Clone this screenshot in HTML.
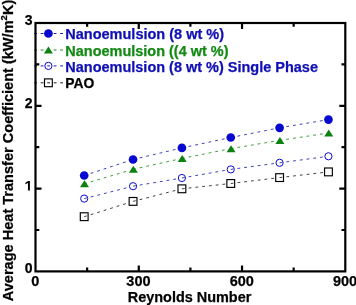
<!DOCTYPE html>
<html><head><meta charset="utf-8"><style>
html,body{margin:0;padding:0;background:#fff;width:356px;height:305px;overflow:hidden}
svg{display:block;will-change:transform}
text{font-family:"Liberation Sans",sans-serif;font-weight:bold;font-size:14px;stroke:currentColor;stroke-width:0.25px}
</style></head><body>
<svg width="356" height="305" viewBox="0 0 356 305">
<path d="M84.20 216.70L129.61 202.48M133.05 201.40L178.41 189.70M181.90 188.80L227.17 183.89M230.75 183.50L276.03 178.03M279.60 177.60L324.87 172.32" fill="none" stroke="#202020" stroke-width="0.85" stroke-dasharray="2.8 4"/>
<path d="M84.20 198.60L129.56 187.09M133.05 186.20L178.35 178.60M181.90 178.00L227.20 170.02M230.75 169.40L276.03 163.28M279.60 162.80L324.88 156.77" fill="none" stroke="#1c1cb0" stroke-width="0.85" stroke-dasharray="2.8 4"/>
<path d="M84.20 183.80L129.60 170.37M133.05 169.35L178.39 159.23M181.90 158.45L227.22 149.36M230.75 148.65L276.05 141.00M279.60 140.40L324.89 133.54" fill="none" stroke="#168c18" stroke-width="0.85" stroke-dasharray="2.8 4"/>
<path d="M84.20 175.50L129.63 160.62M133.05 159.50L178.40 148.73M181.90 147.90L227.23 138.25M230.75 137.50L276.07 128.50M279.60 127.80L324.90 120.20" fill="none" stroke="#1c1cb0" stroke-width="0.85" stroke-dasharray="2.8 4"/>
<rect x="80.30" y="212.80" width="7.8" height="7.8" fill="none" stroke="#000" stroke-width="1.15"/>
<rect x="129.15" y="197.50" width="7.8" height="7.8" fill="none" stroke="#000" stroke-width="1.15"/>
<rect x="178.00" y="184.90" width="7.8" height="7.8" fill="none" stroke="#000" stroke-width="1.15"/>
<rect x="226.85" y="179.60" width="7.8" height="7.8" fill="none" stroke="#000" stroke-width="1.15"/>
<rect x="275.70" y="173.70" width="7.8" height="7.8" fill="none" stroke="#000" stroke-width="1.15"/>
<rect x="324.55" y="168.00" width="7.8" height="7.8" fill="none" stroke="#000" stroke-width="1.15"/>
<circle cx="84.20" cy="198.60" r="3.6" fill="none" stroke="#0808d0" stroke-width="1.0"/>
<circle cx="133.05" cy="186.20" r="3.6" fill="none" stroke="#0808d0" stroke-width="1.0"/>
<circle cx="181.90" cy="178.00" r="3.6" fill="none" stroke="#0808d0" stroke-width="1.0"/>
<circle cx="230.75" cy="169.40" r="3.6" fill="none" stroke="#0808d0" stroke-width="1.0"/>
<circle cx="279.60" cy="162.80" r="3.6" fill="none" stroke="#0808d0" stroke-width="1.0"/>
<circle cx="328.45" cy="156.30" r="3.6" fill="none" stroke="#0808d0" stroke-width="1.0"/>
<path d="M84.50 180.30L89.00 187.30L80.00 187.30Z" fill="#0c820e"/>
<path d="M133.35 165.85L137.85 172.85L128.85 172.85Z" fill="#0c820e"/>
<path d="M182.20 154.95L186.70 161.95L177.70 161.95Z" fill="#0c820e"/>
<path d="M231.05 145.15L235.55 152.15L226.55 152.15Z" fill="#0c820e"/>
<path d="M279.90 136.90L284.40 143.90L275.40 143.90Z" fill="#0c820e"/>
<path d="M328.75 129.50L333.25 136.50L324.25 136.50Z" fill="#0c820e"/>
<circle cx="84.20" cy="175.50" r="4.35" fill="#0808d0"/>
<circle cx="133.05" cy="159.50" r="4.35" fill="#0808d0"/>
<circle cx="181.90" cy="147.90" r="4.35" fill="#0808d0"/>
<circle cx="230.75" cy="137.50" r="4.35" fill="#0808d0"/>
<circle cx="279.60" cy="127.80" r="4.35" fill="#0808d0"/>
<circle cx="328.45" cy="119.60" r="4.35" fill="#0808d0"/>
<path d="M34.2 33.5H63.0" stroke="#1c1cb0" stroke-width="1" stroke-dasharray="2.8 3.7"/>
<circle cx="48.40" cy="33.50" r="4.35" fill="#0808d0"/>
<path d="M34.2 50.0H63.0" stroke="#168c18" stroke-width="1" stroke-dasharray="2.8 3.7"/>
<path d="M48.40 46.50L52.90 53.50L43.90 53.50Z" fill="#0c820e"/>
<path d="M34.2 65.9H63.0" stroke="#1c1cb0" stroke-width="1" stroke-dasharray="2.8 3.7"/>
<circle cx="48.40" cy="65.90" r="3.6" fill="none" stroke="#0808d0" stroke-width="1.0"/>
<path d="M34.2 82.8H63.0" stroke="#202020" stroke-width="1" stroke-dasharray="2.8 3.7"/>
<rect x="44.50" y="78.90" width="7.8" height="7.8" fill="none" stroke="#000" stroke-width="1.15"/>
<text x="65.3" y="38.9" fill="#1010b4" style="color:#1010b4" textLength="158.7" lengthAdjust="spacingAndGlyphs">Nanoemulsion (8 wt %)</text>
<text x="65.3" y="55.6" fill="#128a14" style="color:#128a14" textLength="163.2" lengthAdjust="spacingAndGlyphs">Nanoemulsion ((4 wt %)</text>
<text x="65.3" y="72.0" fill="#1010b4" style="color:#1010b4" textLength="252.7" lengthAdjust="spacingAndGlyphs">Nanoemulsion (8 wt %) Single Phase</text>
<text x="65.3" y="87.8" fill="#000" style="color:#000" textLength="29.0" lengthAdjust="spacingAndGlyphs">PAO</text>
<path d="M87.13 271.4V267.60M87.13 23.0V26.80M190.40 271.4V267.60M190.40 23.0V26.80M293.67 271.4V267.60M293.67 23.0V26.80M138.77 271.4V265.40M138.77 23.0V29.00M242.03 271.4V265.40M242.03 23.0V29.00M35.5 230.00H39.30M345.3 230.00H341.50M35.5 147.20H39.30M345.3 147.20H341.50M35.5 64.40H39.30M345.3 64.40H341.50M35.5 188.60H41.50M345.3 188.60H339.30M35.5 105.80H41.50M345.3 105.80H339.30" stroke="#000" stroke-width="2.2" fill="none"/>
<rect x="35.5" y="23.0" width="309.80" height="248.40" fill="none" stroke="#000" stroke-width="2.2"/>
<text x="32.6" y="273.40" text-anchor="end">0</text>
<text x="32.6" y="107.80" text-anchor="end">2</text>
<text x="32.6" y="25.00" text-anchor="end">3</text>
<path transform="translate(24.7 190.6) scale(0.006836 -0.006836)" d="M478 0V1130L100 920V1160L493 1409H759V0Z"/>
<text x="35.20" y="285.9" text-anchor="middle" style="font-size:14.5px">0</text>
<text x="138.47" y="285.9" text-anchor="middle" style="font-size:14.5px">300</text>
<text x="241.73" y="285.9" text-anchor="middle" style="font-size:14.5px">600</text>
<text x="345.00" y="285.9" text-anchor="middle" style="font-size:14.5px">900</text>
<text x="127.8" y="301.8" style="font-size:14.45px">Reynolds Number</text>
<text transform="translate(13.4 301.2) rotate(-90)" style="font-size:14.55px">Average Heat Transfer Coefficient (kW/m<tspan font-size="9.5" dy="-6">2</tspan><tspan dy="6">K)</tspan></text>
</svg>
</body></html>
